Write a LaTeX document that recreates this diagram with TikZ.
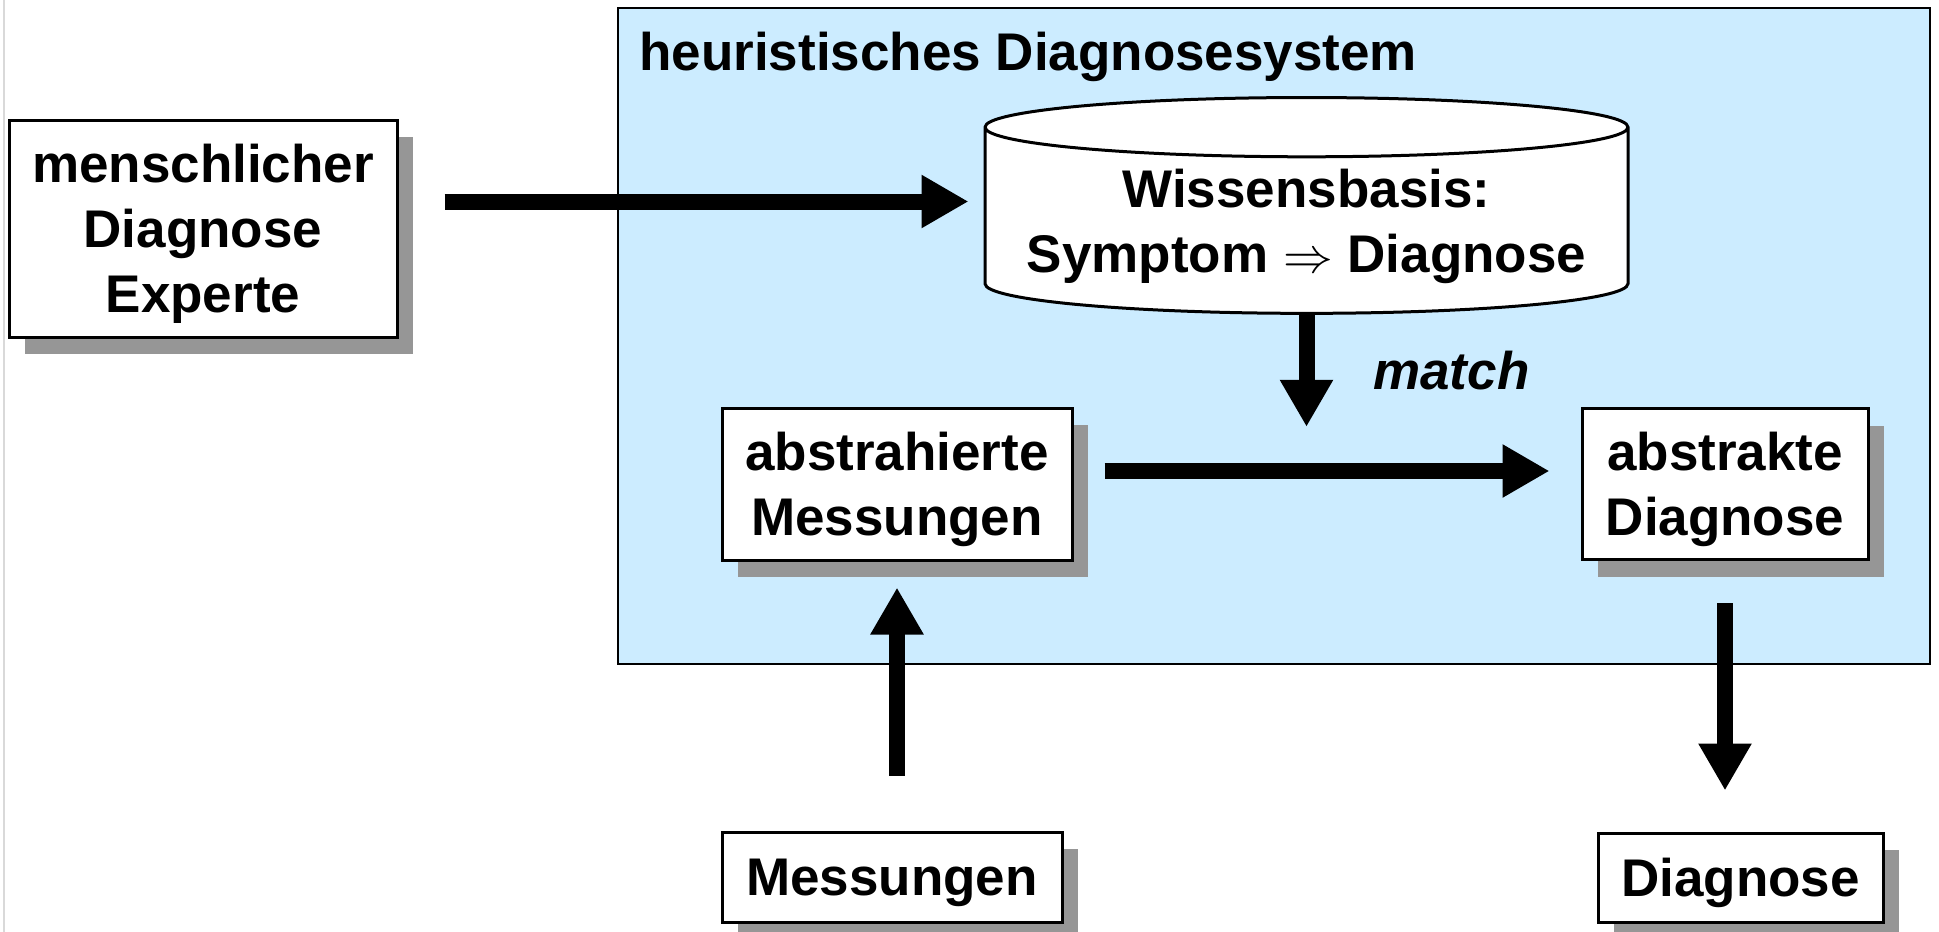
\documentclass[tikz,border=0pt]{standalone}
\usepackage{fontspec}
\setmainfont{Liberation Sans}
\usetikzlibrary{arrows.meta,shapes.geometric,shadows}

\definecolor{sysblue}{RGB}{204,236,255}
\definecolor{shadowgray}{RGB}{150,150,150}

\tikzset{
  txt/.style={font=\fontsize{26.5}{32.5}\selectfont\bfseries},
  box/.style={txt, draw, line width=1.5pt, fill=white, align=center, inner sep=0pt, text depth=-1.5pt,
    drop shadow={shadow xshift=8pt, shadow yshift=-8.5pt, opacity=1, fill=shadowgray}},
  fat/.style={line width=8pt, -{Triangle[length=23.5pt,width=25pt]}}
}

\begin{document}
\begin{tikzpicture}[x=0.5pt,y=-0.5pt]
  \useasboundingbox (0,0) rectangle (1939,932);
  \draw[black!15, line width=1pt] (4,0) -- (4,932);
  % system frame
  \node[draw, fill=sysblue, line width=.75pt, minimum width=656pt, minimum height=328pt] (sys) at (1274,336) {};
  \node[txt, anchor=west, inner sep=0pt] (title) at (639,57) {heuristisches Diagnosesystem};
  % boxes
  \node[box, minimum width=194pt, minimum height=108.5pt] (expert) at (203,228.5) {menschlicher\\Diagnose\\Experte};
  \node[txt, cylinder, shape border rotate=90, aspect=0.106, draw, fill=white, line width=1.5pt,
    minimum width=321.5pt, minimum height=105pt, align=center, inner xsep=0pt, inner ysep=5.5pt, text depth=-1.5pt] (wb) at (1306.5,221)
    {Wissensbasis:\\Symptom $\Rightarrow$ Diagnose};
  \node[box, minimum width=175pt, minimum height=76pt] (am) at (897,484) {abstrahierte\\Messungen};
  \node[box, minimum width=143pt, minimum height=75.5pt] (ad) at (1725,484) {abstrakte\\Diagnose};
  \node[box, minimum width=170pt, minimum height=45pt] (mess) at (892,877) {Messungen};
  \node[box, minimum width=142.5pt, minimum height=44.5pt] (diag) at (1740.5,877.5) {Diagnose};
  \coordinate (matchtip) at ([yshift=-56pt]wb.south);
  \node[txt, font=\fontsize{26.5}{32.5}\selectfont\bfseries\itshape, anchor=west, inner sep=0pt] (matchlbl) at (1373,371) {match};
  % arrows
  \draw[fat, shorten <=23pt, shorten >=7.5pt] ([yshift=13.5pt]expert.east) -- ([yshift=13.5pt]expert.east -| wb.west);
  \draw[fat] (wb.south) -- (matchtip);
  \draw[fat, shorten <=15.5pt, shorten >=15.5pt] ([yshift=6.5pt]am.east) -- ([yshift=6.5pt]ad.west);
  \draw[fat, shorten <=27.5pt, shorten >=13pt] (am.south |- mess.north) -- (am.south);
  \draw[fat, shorten <=21pt, shorten >=20.5pt] (ad.south) -- (ad.south |- diag.north);
\end{tikzpicture}
\end{document}
